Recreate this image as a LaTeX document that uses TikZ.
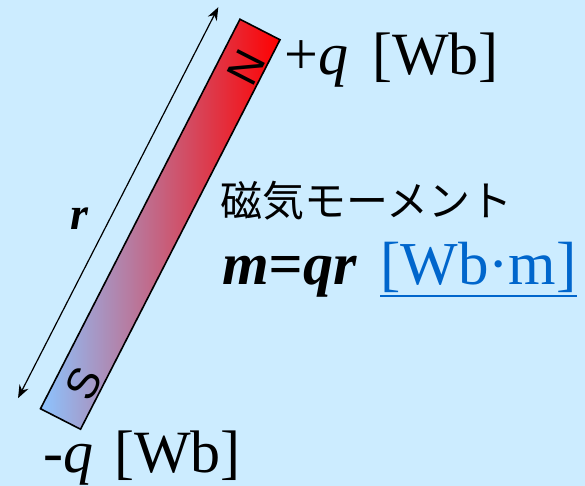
\documentclass[tikz,border=0pt]{standalone}
\usepackage{fontspec}
\setmainfont{Liberation Serif}
\newfontfamily\jpfont{Noto Sans CJK JP}
\newfontfamily\polefont{Liberation Sans}
\usetikzlibrary{arrows.meta,calc}
\definecolor{bgblue}{RGB}{204,236,255}
\definecolor{nred}{RGB}{255,0,0}
\definecolor{midpink}{RGB}{214,138,180}
\definecolor{sblue}{RGB}{140,196,255}
\definecolor{linkblue}{RGB}{0,102,204}

\begin{document}
\begin{tikzpicture}[x=1pt, y=1pt, >={Stealth[length=13pt,width=10pt]},
    lbl/.style={inner sep=0pt, anchor=base west, font=\fontsize{60}{64}\selectfont},
    pole/.style={inner sep=0pt, font=\polefont\fontsize{44}{46}\selectfont, rotate=62.88}]
    % 背景
    \useasboundingbox (0,0) rectangle (585,486);
    \fill[bgblue] (0,0) rectangle (585,486);

    % 棒磁石
    \node[draw, line width=1.6pt, rotate=62.88, minimum width=437.6pt, minimum height=45pt,
          inner sep=0pt, left color=sblue, middle color=midpink, right color=nred] (bar) at (160.25,261.75) {};
    \node[pole] (N) at (246,419) {N};
    \node[pole] (S) at (84,102) {S};

    % 長さ r の矢印
    \coordinate (rS) at ($(bar.north west)!24pt!90:(bar.north east)$);
    \coordinate (rN) at ($(bar.north east)!24pt!-90:(bar.north west)$);
    \draw[<->, line width=1.2pt] (rS) -- (rN);
    \node[inner sep=0pt, font=\bfseries\itshape\fontsize{46}{48}\selectfont] (r) at (79,267.5) {r};

    % 磁荷
    \node[lbl] (qN) at (284,411) {+\textit{q}\hspace{0.4em}[Wb]};
    \node[lbl] (qS) at (43,13.5) {-\textit{q}\hspace{0.35em}[Wb]};

    % 磁気モーメント
    \node[inner sep=0pt, anchor=base west, font=\jpfont\fontsize{42}{44}\selectfont] (moment) at (220,269) {磁気モーメント};
    \node[inner sep=0pt, anchor=base west, font=\bfseries\itshape\fontsize{60}{64}\selectfont] (formula) at (222,201) {m=qr};
    \node[lbl, text=linkblue, font=\fontsize{61}{64}\selectfont] (unit) at (380,201) {[Wb·m]};
    \draw[linkblue, line width=2.5pt] ($(unit.base west)+(0,-11)$) -- ($(unit.base east)+(0,-11)$);
\end{tikzpicture}
\end{document}
